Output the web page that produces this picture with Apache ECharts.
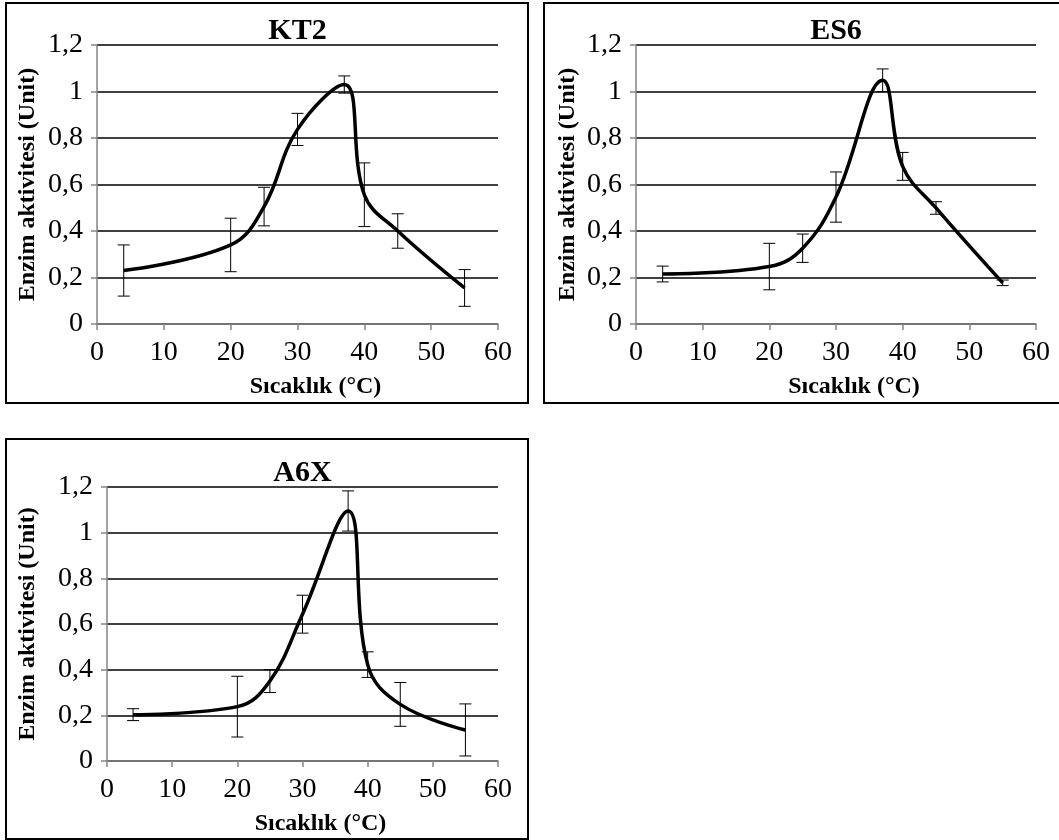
<!DOCTYPE html>
<html>
<head>
<meta charset="utf-8">
<script src="https://cdn.jsdelivr.net/npm/echarts@6/dist/echarts.min.js"></script>
<style>
  html, body { margin: 0; padding: 0; background: #fff; }
  #chart { width: 1059px; height: 840px; }
</style>
</head>
<body>
<div id="chart"></div>
<script>
// Sıcaklık (°C)
const temps = [4, 20, 25, 30, 37, 40, 45, 55]

// Enzim aktivitesi (Unit) ve hata çubukları
const kt2 = [0.23, 0.34, 0.505, 0.837, 1.03, 0.556, 0.40, 0.155]
const kt2Err = [0.11, 0.115, 0.083, 0.069, 0.037, 0.137, 0.074, 0.079]

const es6 = [0.215, 0.247, 0.326, 0.546, 1.048, 0.678, 0.499, 0.177]
const es6Err = [0.034, 0.1, 0.061, 0.108, 0.049, 0.06, 0.027, 0.012]

const a6x = [0.203, 0.238, 0.35, 0.643, 1.095, 0.422, 0.248, 0.136]
const a6xErr = [0.026, 0.133, 0.05, 0.083, 0.088, 0.056, 0.096, 0.114]

const names = ['KT2', 'ES6', 'A6X']
const xName = 'Sıcaklık (°C)'
const yName = 'Enzim aktivitesi (Unit)'

const FONT = '"Liberation Serif", "Times New Roman", serif'

// plot boxes [left, top, width, height] and outer frames
const grids = [
  [97, 45, 401, 279],
  [636, 45, 400, 279],
  [107, 487, 391, 274],
]
const frames = [
  [6, 3, 522, 400],
  [544, 3, 520, 400],
  [6, 439, 522, 400],
]
const yNameGap = [57, 56, 67]

const series = [kt2, es6, a6x]
const errors = [kt2Err, es6Err, a6xErr]

function fmt(v) {
  return Number(v.toFixed(1)).toString().replace('.', ',')
}

const option = {
  animation: false,
  backgroundColor: '#fff',
  grid: grids.map(g => ({ left: g[0], top: g[1], width: g[2], height: g[3] })),
  xAxis: grids.map((g, i) => ({
    type: 'value',
    gridIndex: i,
    min: 0,
    max: 60,
    interval: 10,
    name: xName,
    nameLocation: 'middle',
    nameGap: 51,
    nameTextStyle: {
      fontFamily: FONT,
      fontWeight: 'bold',
      fontSize: 24,
      color: '#000',
      padding: [0, 0, 0, 36],
    },
    axisLine: { onZero: false, lineStyle: { color: '#868686', width: 1.5 } },
    axisTick: { show: true, length: 6, lineStyle: { color: '#868686', width: 1.5 } },
    axisLabel: { margin: 15, fontFamily: FONT, fontSize: 28, color: '#000' },
    splitLine: { show: false },
  })),
  yAxis: grids.map((g, i) => ({
    type: 'value',
    gridIndex: i,
    min: 0,
    max: 1.2,
    interval: 0.2,
    name: yName,
    nameLocation: 'middle',
    nameGap: yNameGap[i],
    nameTextStyle: {
      fontFamily: FONT,
      fontWeight: 'bold',
      fontSize: 24,
      color: '#000',
    },
    axisLine: { show: true, lineStyle: { color: '#868686', width: 1.5 } },
    axisTick: { show: true, length: 6, lineStyle: { color: '#868686', width: 1.5 } },
    axisLabel: {
      margin: 14,
      fontFamily: FONT,
      fontSize: 28,
      color: '#000',
      formatter: fmt,
    },
    splitLine: { show: true, lineStyle: { color: '#000', width: 1.5 } },
  })),
  graphic: [
    ...frames.map(f => ({
      type: 'rect',
      shape: { x: f[0], y: f[1], width: f[2], height: f[3] },
      style: { fill: 'none', stroke: '#000', lineWidth: 2 },
      z: 100,
    })),
    ...grids.map((g, i) => ({
      type: 'text',
      x: g[0] + g[2] / 2,
      y: g[1] - 14,
      style: {
        text: names[i],
        font: 'bold 30px ' + FONT,
        fill: '#000',
        align: 'center',
        verticalAlign: 'middle',
      },
    })),
  ],
  series: [],
}

series.forEach((ys, i) => {
  option.series.push({
    name: names[i],
    type: 'line',
    xAxisIndex: i,
    yAxisIndex: i,
    data: temps.map((t, k) => [t, ys[k]]),
    smooth: 0.4,
    showSymbol: false,
    lineStyle: { color: '#000', width: 3.5 },
    z: 3,
  })
  option.series.push({
    name: names[i] + ' hata',
    type: 'custom',
    xAxisIndex: i,
    yAxisIndex: i,
    data: temps.map((t, k) => [t, ys[k] - errors[i][k], ys[k] + errors[i][k]]),
    renderItem: function (params, api) {
      const x = api.value(0)
      const lo = api.coord([x, api.value(1)])
      const hi = api.coord([x, api.value(2)])
      const w = 6
      const st = { stroke: '#000', lineWidth: 1 }
      return {
        type: 'group',
        children: [
          { type: 'line', shape: { x1: lo[0], y1: lo[1], x2: hi[0], y2: hi[1] }, style: st },
          { type: 'line', shape: { x1: lo[0] - w, y1: lo[1], x2: lo[0] + w, y2: lo[1] }, style: st },
          { type: 'line', shape: { x1: hi[0] - w, y1: hi[1], x2: hi[0] + w, y2: hi[1] }, style: st },
        ],
      }
    },
    z: 2,
  })
})

echarts.init(document.getElementById('chart')).setOption(option)
</script>
</body>
</html>
